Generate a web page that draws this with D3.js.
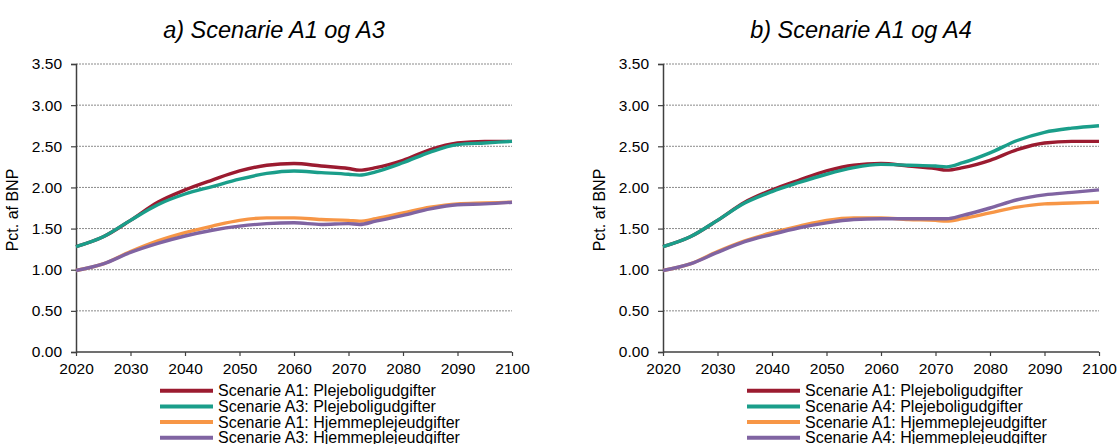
<!DOCTYPE html>
<html>
<head>
<meta charset="utf-8">
<script src="https://cdn.jsdelivr.net/npm/d3@7"></script>
<style>
  body { margin: 0; background: #fff; }
  svg { display: block; font-family: "Liberation Sans", Arial, sans-serif; }
</style>
</head>
<body>
<svg id="chart" width="1117" height="444"></svg>
<script>
// years
const years = [2020, 2025, 2030, 2035, 2040, 2045, 2050, 2055, 2060, 2065, 2070, 2072, 2075, 2080, 2085, 2090, 2095, 2100];

const a1Pleje = [1.28, 1.40, 1.60, 1.82, 1.97, 2.09, 2.20, 2.27, 2.29, 2.26, 2.23, 2.21, 2.24, 2.33, 2.46, 2.54, 2.56, 2.56];
const a3Pleje = [1.28, 1.40, 1.60, 1.79, 1.92, 2.01, 2.10, 2.17, 2.20, 2.18, 2.16, 2.15, 2.19, 2.30, 2.43, 2.52, 2.54, 2.56];
const a4Pleje = [1.28, 1.40, 1.60, 1.81, 1.95, 2.06, 2.16, 2.24, 2.28, 2.27, 2.26, 2.25, 2.30, 2.42, 2.57, 2.67, 2.72, 2.75];

const a1Hjem = [0.99, 1.07, 1.22, 1.35, 1.45, 1.53, 1.60, 1.63, 1.63, 1.61, 1.60, 1.59, 1.62, 1.69, 1.76, 1.80, 1.81, 1.82];
const a3Hjem = [0.99, 1.07, 1.21, 1.32, 1.41, 1.48, 1.53, 1.56, 1.57, 1.55, 1.56, 1.55, 1.59, 1.66, 1.74, 1.79, 1.80, 1.82];
const a4Hjem = [0.99, 1.07, 1.21, 1.34, 1.43, 1.51, 1.57, 1.61, 1.62, 1.62, 1.62, 1.62, 1.66, 1.75, 1.85, 1.91, 1.94, 1.97];

const xTicks = [2020, 2030, 2040, 2050, 2060, 2070, 2080, 2090, 2100];
const yTicks = [0, 0.5, 1, 1.5, 2, 2.5, 3, 3.5];

const colors = ['#9b1b30', '#1a9e8a', '#f79646', '#8064a2'];

const panels = [
    {
        title: 'a) Scenarie A1 og A3', left: 76,
        series: [
            { name: 'Scenarie A1: Plejeboligudgifter', values: a1Pleje },
            { name: 'Scenarie A3: Plejeboligudgifter', values: a3Pleje },
            { name: 'Scenarie A1: Hjemmeplejeudgifter', values: a1Hjem },
            { name: 'Scenarie A3: Hjemmeplejeudgifter', values: a3Hjem }
        ]
    },
    {
        title: 'b) Scenarie A1 og A4', left: 663,
        series: [
            { name: 'Scenarie A1: Plejeboligudgifter', values: a1Pleje },
            { name: 'Scenarie A4: Plejeboligudgifter', values: a4Pleje },
            { name: 'Scenarie A1: Hjemmeplejeudgifter', values: a1Hjem },
            { name: 'Scenarie A4: Hjemmeplejeudgifter', values: a4Hjem }
        ]
    }
];

const svg = d3.select('#chart');
const plotW = 436, plotTop = 64, plotBottom = 352;

panels.forEach(p => {
    const g = svg.append('g').attr('transform', `translate(${p.left},0)`);
    const x = d3.scaleLinear().domain([2020, 2100]).range([0, plotW]);
    const y = d3.scaleLinear().domain([0, 3.5]).range([plotBottom, plotTop]);

    // gridlines
    g.append('g')
        .selectAll('line')
        .data(yTicks.filter(d => d > 0))
        .join('line')
        .attr('x1', 0).attr('x2', plotW)
        .attr('y1', d => y(d)).attr('y2', d => y(d))
        .attr('stroke', '#8a8a8a')
        .attr('stroke-width', 1)
        .attr('stroke-dasharray', '2,1');

    const yAxis = g.append('g')
        .call(d3.axisLeft(y).tickValues(yTicks).tickFormat(d3.format('.2f')).tickSize(5).tickPadding(9));
    const xAxis = g.append('g')
        .attr('transform', `translate(0,${plotBottom})`)
        .call(d3.axisBottom(x).tickValues(xTicks).tickFormat(d3.format('d')).tickSize(4).tickPadding(7));

    [yAxis, xAxis].forEach(a => {
        a.select('.domain').attr('stroke', '#404040').attr('stroke-width', 1.5);
        a.selectAll('.tick line').attr('stroke', '#404040').attr('stroke-width', 1.2);
        a.selectAll('text').attr('fill', '#000').style('font-size', '15.5px')
            .style('font-family', '"Liberation Sans", Arial, sans-serif');
    });
    xAxis.select('.domain').attr('d', `M0,0H${plotW}`);

    g.append('text')
        .attr('transform', `translate(-58,${(plotTop + plotBottom) / 2 + 2}) rotate(-90)`)
        .attr('text-anchor', 'middle')
        .style('font-size', '16px')
        .text('Pct. af BNP');

    g.append('text')
        .attr('x', plotW / 2 - 20)
        .attr('y', 38)
        .attr('text-anchor', 'middle')
        .style('font-size', '23.5px')
        .style('font-style', 'italic')
        .text(p.title);

    const line = d3.line()
        .x((d, i) => x(years[i]))
        .y(d => y(d))
        .curve(d3.curveMonotoneX);

    g.append('g')
        .selectAll('path')
        .data(p.series)
        .join('path')
        .attr('fill', 'none')
        .attr('stroke', (d, i) => colors[i])
        .attr('stroke-width', 3.4)
        .attr('stroke-linejoin', 'round')
        .attr('d', d => line(d.values));

    // legend
    const leg = g.append('g')
        .selectAll('g')
        .data(p.series)
        .join('g')
        .attr('transform', (d, i) => `translate(84,${390.7 + i * 15.7})`);
    leg.append('line')
        .attr('x1', 0).attr('x2', 53)
        .attr('stroke', (d, i) => colors[i])
        .attr('stroke-width', 4);
    leg.append('text')
        .attr('x', 58)
        .attr('dy', '0.35em')
        .style('font-size', '16px')
        .text(d => d.name);
});
</script>
</body>
</html>
